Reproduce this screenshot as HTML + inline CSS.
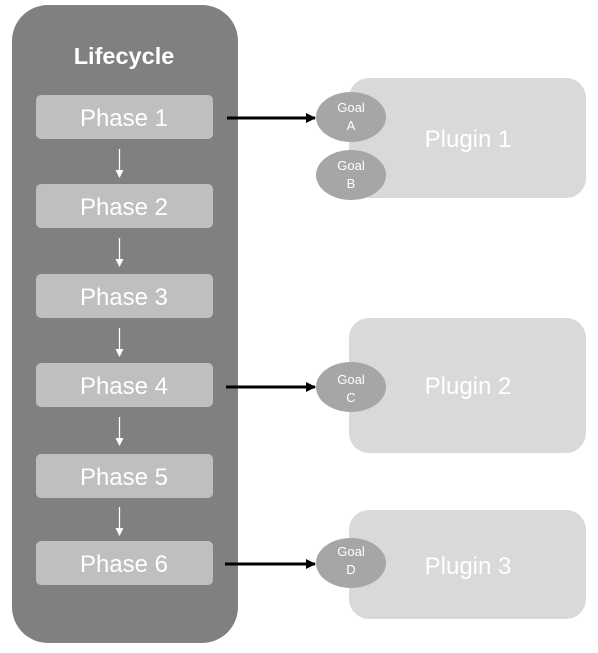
<!DOCTYPE html>
<html><head><style>
body{margin:0;width:598px;height:648px;background:#fff;overflow:hidden}
</style></head><body>
<svg width="598" height="648" xmlns="http://www.w3.org/2000/svg" font-family="Liberation Sans, Arial, sans-serif">
<defs>
<marker id="bk" markerWidth="10" markerHeight="10" refX="9" refY="5" orient="auto" markerUnits="userSpaceOnUse"><path d="M0,0 L10,5 L0,10 z" fill="#000"/></marker>
<marker id="wh" markerWidth="8" markerHeight="8" refX="7" refY="4" orient="auto" markerUnits="userSpaceOnUse"><path d="M0,0 L8,4 L0,8 z" fill="#fff"/></marker>
</defs>
<rect x="12" y="5" width="226" height="638" rx="36" fill="#808080"/>
<text x="124" y="64" text-anchor="middle" fill="#fff" font-size="23.5" font-weight="bold">Lifecycle</text>
<g fill="#bfbfbf">
<rect x="36" y="95" width="177" height="44" rx="5"/>
<rect x="36" y="184" width="177" height="44" rx="5"/>
<rect x="36" y="274" width="177" height="44" rx="5"/>
<rect x="36" y="363" width="177" height="44" rx="5"/>
<rect x="36" y="454" width="177" height="44" rx="5"/>
<rect x="36" y="541" width="177" height="44" rx="5"/>
</g>
<g fill="#fff" font-size="24" text-anchor="middle">
<text x="124" y="126">Phase 1</text>
<text x="124" y="215">Phase 2</text>
<text x="124" y="305">Phase 3</text>
<text x="124" y="394">Phase 4</text>
<text x="124" y="485">Phase 5</text>
<text x="124" y="572">Phase 6</text>
</g>
<g stroke="#fff" stroke-width="1.3" marker-end="url(#wh)">
<line x1="119.5" y1="149" x2="119.5" y2="177"/>
<line x1="119.5" y1="238" x2="119.5" y2="266"/>
<line x1="119.5" y1="328" x2="119.5" y2="356"/>
<line x1="119.5" y1="417" x2="119.5" y2="445"/>
<line x1="119.5" y1="507" x2="119.5" y2="535"/>
</g>
<g fill="#d9d9d9">
<rect x="349" y="78" width="237" height="120" rx="20"/>
<rect x="349" y="318" width="237" height="135" rx="20"/>
<rect x="349" y="510" width="237" height="109" rx="20"/>
</g>
<g fill="#fff" font-size="24" text-anchor="middle">
<text x="468" y="147">Plugin 1</text>
<text x="468" y="394">Plugin 2</text>
<text x="468" y="574">Plugin 3</text>
</g>
<g fill="#a6a6a6">
<ellipse cx="351" cy="117" rx="35" ry="25"/>
<ellipse cx="351" cy="175" rx="35" ry="25"/>
<ellipse cx="351" cy="387" rx="35" ry="25"/>
<ellipse cx="351" cy="563" rx="35" ry="25"/>
</g>
<g fill="#fff" font-size="13" text-anchor="middle">
<text x="351" y="112">Goal</text><text x="351" y="130">A</text>
<text x="351" y="170">Goal</text><text x="351" y="188">B</text>
<text x="351" y="384">Goal</text><text x="351" y="402">C</text>
<text x="351" y="556">Goal</text><text x="351" y="574">D</text>
</g>
<g stroke="#000" stroke-width="3" marker-end="url(#bk)">
<line x1="227" y1="118" x2="315" y2="118"/>
<line x1="226" y1="387" x2="315" y2="387"/>
<line x1="225" y1="564" x2="315" y2="564"/>
</g>
</svg>
</body></html>
